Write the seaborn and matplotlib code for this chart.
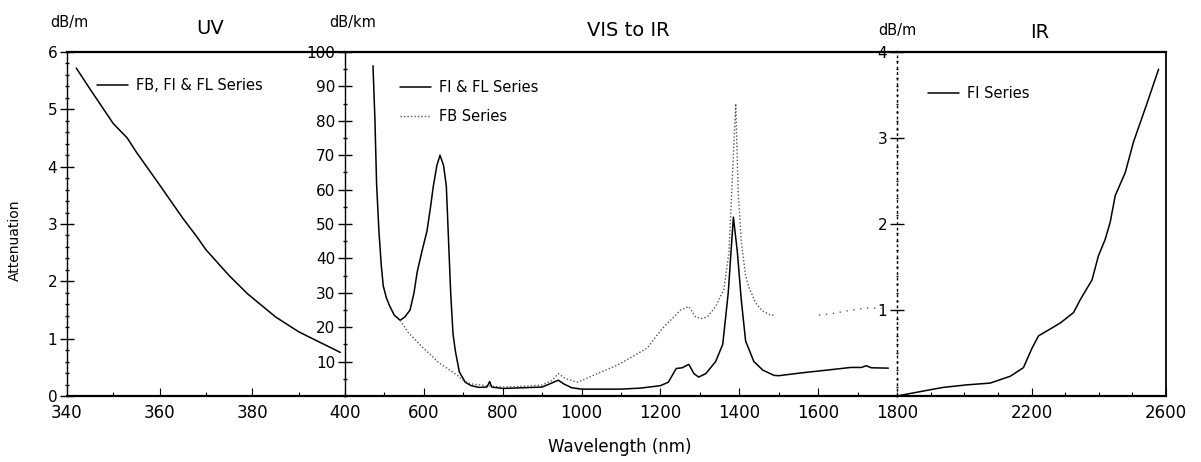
import numpy as np
import pandas as pd
import matplotlib
matplotlib.use("Agg")
import matplotlib.pyplot as plt
import seaborn as sns
from matplotlib.ticker import MultipleLocator, FixedLocator

# ---------------- data ----------------
uv_nm = [342, 345, 350, 353, 355, 360, 365, 368, 370, 375, 379, 385, 390, 395, 399]
uv_att = [5.72, 5.35, 4.75, 4.50, 4.25, 3.68, 3.10, 2.78, 2.55, 2.10, 1.78, 1.38, 1.12, 0.92, 0.76]

vis_fi_nm = [471, 476, 480, 486, 492, 497, 505, 514, 525, 540, 552, 565, 575, 583, 595,
             608, 617, 624, 633, 641, 650, 657, 662, 668, 674, 680, 690, 705, 720, 740,
             760, 767, 772, 800, 850, 900, 925, 941, 955, 975, 1000, 1100, 1150, 1200,
             1220, 1240, 1255, 1272, 1285, 1297, 1315, 1340, 1358, 1372, 1385, 1395,
             1405, 1416, 1437, 1460, 1488, 1500, 1556, 1620, 1683, 1710, 1722, 1735, 1778]
vis_fi_att = [96, 80, 62, 48, 38, 32, 28.5, 26, 23.5, 22, 23, 25, 30, 36, 42,
              48, 55, 61, 67, 70, 67, 61, 47, 30, 18, 13, 7, 4, 3, 2.5,
              2.6, 4.2, 2.6, 2.2, 2.4, 2.6, 3.8, 4.6, 3.5, 2.4, 2.0, 2.0, 2.3, 3.0,
              4.0, 8.0, 8.2, 9.2, 6.5, 5.5, 6.5, 10, 15, 30, 52, 42,
              28, 16, 10, 7.5, 6, 5.9, 6.7, 7.5, 8.3, 8.3, 8.8, 8.2, 8.1]

vis_fb_nm = [540, 560, 598, 640, 685, 700, 720, 760, 800, 850, 900, 925, 941, 960, 990,
             1040, 1091, 1130, 1167, 1190, 1208, 1230, 1251, 1272, 1289, 1305, 1319,
             1340, 1361, 1374, 1383, 1391, 1397, 1405, 1416, 1424, 1442, 1459, 1480, 1490]
vis_fb_att = [22, 18.5, 14, 9.5, 6, 4.5, 3.5, 3.0, 2.6, 2.8, 3.2, 4.5, 6.5, 5, 4,
              6.5, 9, 11.5, 14, 17.5, 20, 22.5, 25, 26, 23, 22.5, 23,
              26, 31, 42, 65, 85, 60, 45, 35, 31.7, 27, 24.7, 23.5, 23.5]
vis_fb_tail_nm = [1602, 1638, 1670, 1723, 1760]
vis_fb_tail_att = [23.5, 24, 24.7, 25.6, 25.5]

ir_nm = [1800, 1854, 1937, 2009, 2077, 2137, 2176, 2202, 2221, 2256, 2286, 2325, 2345,
         2380, 2399, 2419, 2434, 2449, 2479, 2503, 2545, 2578]
ir_att = [0.0, 0.04, 0.10, 0.13, 0.15, 0.23, 0.33, 0.56, 0.70, 0.78, 0.85, 0.97, 1.12,
          1.35, 1.63, 1.82, 2.02, 2.33, 2.60, 2.95, 3.42, 3.80]

uv_xticks = [340, 360, 380, 400]
vis_xticks = [600, 800, 1000, 1200, 1400, 1600, 1800]
ir_xticks = [2200, 2600]
uv_yticks = [0, 1, 2, 3, 4, 5, 6]
vis_yticks = [10, 20, 30, 40, 50, 60, 70, 80, 90, 100]
ir_yticks = [1, 2, 3, 4]

# ---------------- figure ----------------
sns.set_style("ticks")
plt.rcParams['font.family'] = ['DejaVu Sans']
plt.rcParams['text.color'] = 'black'
plt.rcParams['axes.labelcolor'] = 'black'

W, H = 1201, 462
fig = plt.figure(figsize=(W / 100, H / 100), dpi=100)

def rect(x0, x1, y_top=52, y_bot=396):
    return [x0 / W, 1 - y_bot / H, (x1 - x0) / W, (y_bot - y_top) / H]

ax_uv = fig.add_axes(rect(67, 345))
ax_vis = fig.add_axes(rect(345, 897))
ax_ir = fig.add_axes(rect(897, 1166))

lw = 1.1
sns.lineplot(x=uv_nm, y=uv_att, ax=ax_uv, color='black', lw=lw, label='FB, FI & FL Series')
sns.lineplot(x=vis_fi_nm, y=vis_fi_att, ax=ax_vis, color='black', lw=lw, label='FI & FL Series')
sns.lineplot(x=vis_fb_nm, y=vis_fb_att, ax=ax_vis, color='#555555', lw=1.0,
             linestyle=(0, (1, 1.5)), label='FB Series')
sns.lineplot(x=vis_fb_tail_nm, y=vis_fb_tail_att, ax=ax_vis, color='#555555', lw=1.0,
             linestyle=(0, (1, 4)))
sns.lineplot(x=ir_nm, y=ir_att, ax=ax_ir, color='black', lw=lw, label='FI Series')

ax_uv.set_xlim(340, 400); ax_uv.set_ylim(0, 6)
ax_vis.set_xlim(400, 1800); ax_vis.set_ylim(0, 100)
ax_ir.set_xlim(1800, 2600); ax_ir.set_ylim(0, 4)

for ax in (ax_uv, ax_vis, ax_ir):
    ax.set_xlabel(''); ax.set_ylabel('')
    for s in ax.spines.values():
        s.set_color('black')
    ax.spines['top'].set_linewidth(1.6)
    ax.spines['bottom'].set_linewidth(1.6)
    ax.spines['left'].set_linewidth(1.0)
    ax.spines['right'].set_visible(False)
    ax.tick_params(axis='y', which='major', direction='inout', length=10, width=1.0,
                   labelsize=11, pad=2, colors='black')
    ax.tick_params(axis='y', which='minor', direction='inout', length=3, width=1.0, colors='black')
    ax.tick_params(axis='x', which='major', direction='in', length=6, width=0.8,
                   labelsize=12, pad=6, colors='black')
    ax.tick_params(axis='x', which='minor', direction='in', length=3, width=0.8, colors='black')
    ax.set_facecolor('white')

ax_ir.spines['right'].set_visible(True)
ax_ir.spines['right'].set_linewidth(1.3)
ax_ir.spines['left'].set_linestyle((0, (1, 3)))

ax_uv.set_xticks(uv_xticks); ax_uv.set_xticklabels([str(v) for v in uv_xticks])
ax_uv.xaxis.set_minor_locator(MultipleLocator(10))
ax_vis.set_xticks(vis_xticks); ax_vis.set_xticklabels([str(v) for v in vis_xticks])
ax_vis.xaxis.set_minor_locator(MultipleLocator(100))
ax_ir.set_xticks(ir_xticks); ax_ir.set_xticklabels([str(v) for v in ir_xticks])
ax_ir.xaxis.set_minor_locator(MultipleLocator(100))

ax_uv.set_yticks(uv_yticks); ax_uv.set_yticklabels([str(v) for v in uv_yticks])
ax_uv.yaxis.set_minor_locator(MultipleLocator(0.2))
ax_vis.set_yticks(vis_yticks); ax_vis.set_yticklabels([str(v) for v in vis_yticks])
ax_vis.yaxis.set_minor_locator(MultipleLocator(5))
ax_ir.set_yticks(ir_yticks); ax_ir.set_yticklabels([str(v) for v in ir_yticks])
ax_ir.yaxis.set_minor_locator(MultipleLocator(0.1))
ax_ir.tick_params(axis='y', which='minor', length=2, width=1.0)

# legends
leg_kw = dict(frameon=False, fontsize=10.5, handlelength=2.1, handletextpad=0.6,
              borderpad=0, borderaxespad=0, bbox_transform=fig.transFigure)
ax_uv.legend(loc='center left', bbox_to_anchor=(97 / W, 1 - 86 / H), **leg_kw)
ax_vis.legend(loc='center left', bbox_to_anchor=(400 / W, 1 - 102 / H), labelspacing=0.95, **leg_kw)
ax_ir.legend(loc='center left', bbox_to_anchor=(928 / W, 1 - 94 / H), **leg_kw)

# titles and unit labels
fig.text(210 / W, 1 - 28 / H, 'UV', ha='center', va='center', fontsize=14)
fig.text(628 / W, 1 - 31 / H, 'VIS to IR', ha='center', va='center', fontsize=14)
fig.text(1040 / W, 1 - 33 / H, 'IR', ha='center', va='center', fontsize=14)
fig.text(69 / W, 1 - 22 / H, 'dB/m', ha='center', va='center', fontsize=10.5)
fig.text(353 / W, 1 - 23 / H, 'dB/km', ha='center', va='center', fontsize=10.5)
fig.text(897 / W, 1 - 30 / H, 'dB/m', ha='center', va='center', fontsize=10.5)
fig.text(15 / W, 1 - 240 / H, 'Attenuation', ha='center', va='center', rotation=90, fontsize=10)
fig.text(620 / W, 1 - 447 / H, 'Wavelength (nm)', ha='center', va='center', fontsize=12)

fig.savefig('out.png', dpi=100, facecolor='white')
